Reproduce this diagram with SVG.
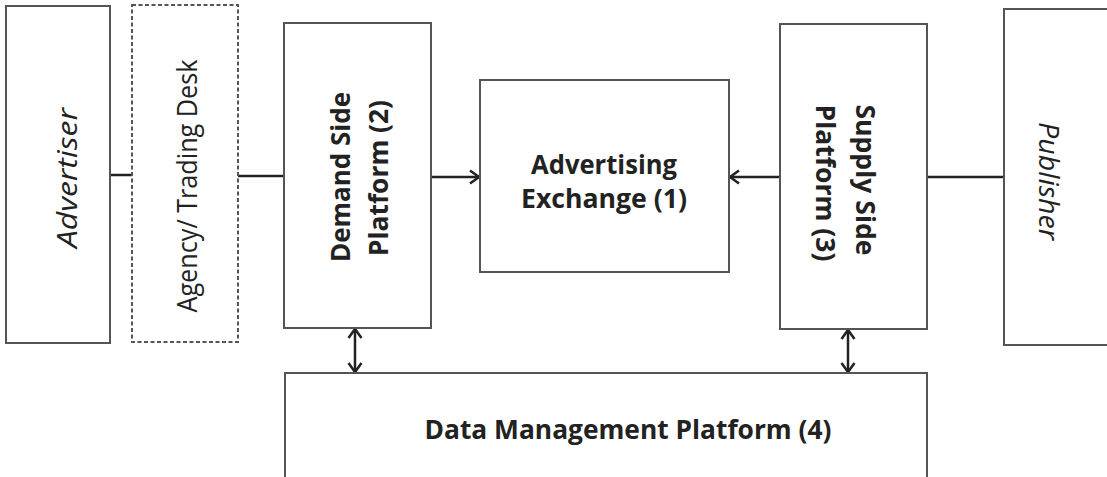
<svg xmlns="http://www.w3.org/2000/svg" width="1107" height="477" viewBox="0 0 1107 477">
<defs>
<style>
.box{fill:#fff;stroke:#555;stroke-width:2}
.dash{stroke-dasharray:4 2.5}
.ln{stroke:#222;stroke-width:2.5;fill:none}
.t{font-family:"Open Sans","Liberation Sans",sans-serif;fill:#222;text-anchor:middle;dominant-baseline:central}
.b{font-weight:bold;font-size:27px}
.i{font-style:italic;font-size:28px}
.r{font-size:28px}
</style>
<marker id="ah" markerWidth="16" markerHeight="16" refX="12" refY="8" orient="auto-start-reverse" markerUnits="userSpaceOnUse">
<path d="M3,1.5 L12,8 L3,14.5" fill="none" stroke="#222" stroke-width="2.5"/>
</marker>
</defs>
<rect width="1107" height="477" fill="#fff"/>
<g id="connectors">
<line class="ln" x1="110" y1="175" x2="132" y2="175"/>
<line class="ln" x1="238" y1="176" x2="284" y2="176"/>
<line class="ln" x1="431" y1="177" x2="479" y2="177" marker-end="url(#ah)"/>
<line class="ln" x1="780" y1="177" x2="730" y2="177" marker-end="url(#ah)"/>
<line class="ln" x1="927" y1="177" x2="1004" y2="177"/>
<line class="ln" x1="355" y1="329" x2="355" y2="372" marker-start="url(#ah)" marker-end="url(#ah)"/>
<line class="ln" x1="848" y1="330" x2="848" y2="372" marker-start="url(#ah)" marker-end="url(#ah)"/>
</g>
<g id="advertiser">
<rect class="box" x="6" y="6" width="104" height="337"/>
<text class="t i" transform="translate(66,178) rotate(-90)" textLength="140" lengthAdjust="spacingAndGlyphs">Advertiser</text>
</g>
<g id="agency">
<rect class="box dash" x="132" y="5" width="106" height="337"/>
<text class="t r" transform="translate(186,186) rotate(-90)" textLength="253" lengthAdjust="spacingAndGlyphs">Agency/ Trading Desk</text>
</g>
<g id="dsp">
<rect class="box" x="284" y="23" width="147" height="305"/>
<text class="t b" transform="translate(339,177) rotate(-90)" textLength="170" lengthAdjust="spacingAndGlyphs">Demand Side</text>
<text class="t b" transform="translate(377,178) rotate(-90)" textLength="156" lengthAdjust="spacingAndGlyphs">Platform (2)</text>
</g>
<g id="exchange">
<rect class="box" x="480" y="80" width="249" height="192"/>
<text class="t b" x="604" y="163" textLength="146" lengthAdjust="spacingAndGlyphs">Advertising</text>
<text class="t b" x="604" y="197" textLength="166" lengthAdjust="spacingAndGlyphs">Exchange (1)</text>
</g>
<g id="ssp">
<rect class="box" x="780" y="24" width="147" height="305"/>
<text class="t b" transform="translate(866,180) rotate(90)" textLength="151" lengthAdjust="spacingAndGlyphs">Supply Side</text>
<text class="t b" transform="translate(826,183) rotate(90)" textLength="157" lengthAdjust="spacingAndGlyphs">Platform (3)</text>
</g>
<g id="publisher">
<rect class="box" x="1004" y="9" width="110" height="336"/>
<text class="t i" transform="translate(1050,181) rotate(90)" textLength="118" lengthAdjust="spacingAndGlyphs">Publisher</text>
</g>
<g id="dmp">
<rect class="box" x="285" y="373" width="642" height="110"/>
<text class="t b" x="628" y="428" textLength="407" lengthAdjust="spacingAndGlyphs">Data Management Platform (4)</text>
</g>
</svg>
